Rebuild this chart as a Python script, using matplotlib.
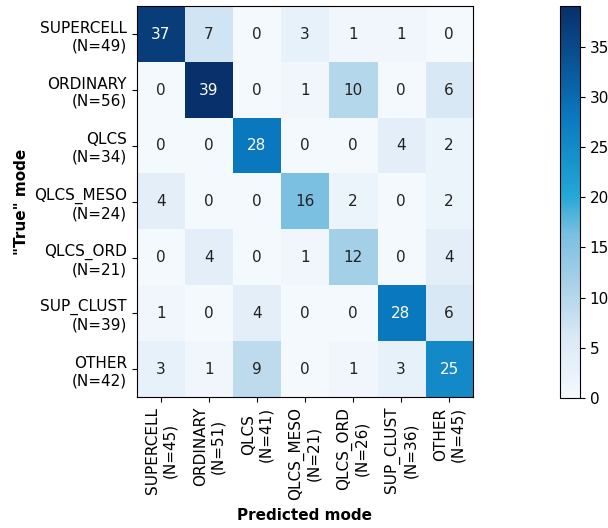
import numpy as np
import matplotlib
matplotlib.use("Agg")
import matplotlib.pyplot as plt
from matplotlib.colors import LinearSegmentedColormap

modes = ["SUPERCELL", "ORDINARY", "QLCS", "QLCS_MESO", "QLCS_ORD", "SUP_CLUST", "OTHER"]
true_n = [49, 56, 34, 24, 21, 39, 42]
pred_n = [45, 51, 41, 21, 26, 36, 45]

counts = np.array([
    [37, 7, 0, 3, 1, 1, 0],
    [0, 39, 0, 1, 10, 0, 6],
    [0, 0, 28, 0, 0, 4, 2],
    [4, 0, 0, 16, 2, 0, 2],
    [0, 4, 0, 1, 12, 0, 4],
    [1, 0, 4, 0, 0, 28, 6],
    [3, 1, 9, 0, 1, 3, 25],
])

cmap = LinearSegmentedColormap.from_list(
    "blues_cm",
    [(0.0, "#f4f9fe"), (0.15, "#dbe9f6"), (0.3, "#a6d0e8"), (0.42, "#78bfe0"),
     (0.52, "#22a7d6"), (0.72, "#0a78bf"), (1.0, "#08306b")])

fig = plt.figure(figsize=(6.08, 5.28), dpi=100)
ax = fig.add_axes([0.225, 0.248, 0.553, 0.74])
cax = fig.add_axes([0.921, 0.246, 0.033, 0.742])

im = ax.imshow(counts, cmap=cmap, vmin=0, vmax=counts.max(),
               interpolation="nearest", aspect="auto")
cb = fig.colorbar(im, cax=cax, ticks=[0, 5, 10, 15, 20, 25, 30, 35])
cb.ax.tick_params(labelsize=11)

thresh = counts.max() / 2
for i in range(counts.shape[0]):
    for j in range(counts.shape[1]):
        ax.text(j, i, str(counts[i, j]), ha="center", va="center", fontsize=11,
                color="white" if counts[i, j] > thresh else "#222222")

ax.set_xticks(range(len(modes)))
ax.set_yticks(range(len(modes)))
ax.set_xticklabels([f"{m}\n(N={n})" for m, n in zip(modes, pred_n)], rotation=90, fontsize=11)
ax.set_yticklabels([f"{m}\n(N={n})" for m, n in zip(modes, true_n)], fontsize=11, ha="right")
ax.set_xlabel("Predicted mode", fontsize=11, fontweight="bold", labelpad=6)
ax.set_ylabel('"True" mode', fontsize=11, fontweight="bold")

fig.savefig("out.png", dpi=100)
